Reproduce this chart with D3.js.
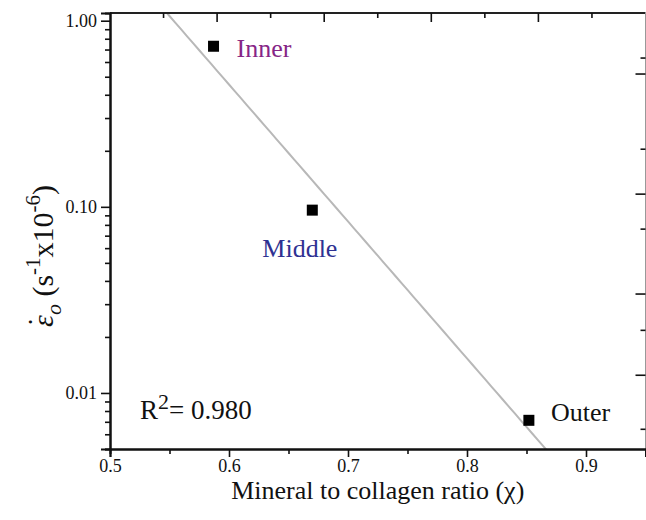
<!DOCTYPE html>
<html>
<head>
<meta charset="utf-8">
<script src="https://cdn.jsdelivr.net/npm/d3@7"></script>
<style>
  html, body { margin: 0; padding: 0; background: #fff; }
  svg { display: block; }
  text { font-family: "Liberation Serif", "Times New Roman", serif; }
</style>
</head>
<body>
<svg id="chart" width="646" height="520"></svg>
<script>
// Strain rate vs mineral-to-collagen ratio for three tissue regions
const regions = ["Inner", "Middle", "Outer"];
const ratio = [0.587, 0.670, 0.852];
const strainRate = [0.729, 0.096, 0.00713];
const labelColors = ["#862586", "#2e3192", "#111111"];

const xMajorTicks = [0.5, 0.6, 0.7, 0.8, 0.9];
const xMinorTicks = [0.55, 0.65, 0.75, 0.85, 0.95];
const yMajorTicks = [1, 0.1, 0.01];
const yMajorLabels = ["1.00", "0.10", "0.01"];
const yMinorTicks = [0.9, 0.8, 0.7, 0.6, 0.5, 0.4, 0.3, 0.2,
                     0.09, 0.08, 0.07, 0.06, 0.05, 0.04, 0.03, 0.02,
                     0.009, 0.008, 0.007, 0.006, 0.005];
// Mirror-axis ticks (top and right frame)
const topTicks = [0.545, 0.59, 0.635, 0.68, 0.725, 0.77, 0.815, 0.86, 0.905];
const rightTicks = [0.630, 0.517, 0.204, 0.117, 0.0759, 0.0340, 0.0217, 0.01245, 0.00638];
const rSquaredText = "0.980";

const margin = { left: 110, top: 13, right: 0.5, bottom: 71 };
const W = 646, H = 520;
const svg = d3.select("#chart");

const x = d3.scaleLinear().domain([0.5, 0.95]).range([margin.left, W - margin.right]);
const y = d3.scaleLog().domain([0.005, 1.1]).range([H - margin.bottom, margin.top]);
const [x0, x1] = x.range();
const [yb, yt] = y.range();

// Least-squares fit of log10(strain rate) against ratio
const lx = ratio, ly = strainRate.map(Math.log10);
const mx = d3.mean(lx), my = d3.mean(ly);
const slope = d3.sum(lx, (v, i) => (v - mx) * (ly[i] - my)) / d3.sum(lx, v => (v - mx) ** 2);
const intercept = my - slope * mx;

svg.append("defs").append("clipPath").attr("id", "plot")
  .append("rect").attr("x", x0).attr("y", yt).attr("width", x1 - x0).attr("height", yb - yt);

const fitX = d3.range(0.5, 0.9501, 0.005);
svg.append("path")
  .attr("clip-path", "url(#plot)")
  .attr("d", d3.line().x(d => x(d)).y(d => y(Math.pow(10, intercept + slope * d)))(fitX))
  .attr("fill", "none").attr("stroke", "#b8b8b8").attr("stroke-width", 2);

// Frame lines
svg.append("line").attr("x1", x0).attr("x2", x1).attr("y1", yt).attr("y2", yt)
  .attr("stroke", "#222").attr("stroke-width", 2);
svg.append("line").attr("x1", x1).attr("x2", x1).attr("y1", yt).attr("y2", yb)
  .attr("stroke", "#999").attr("stroke-width", 1);

// Top mirror ticks (alternating short/long, pointing inward)
svg.append("g").selectAll("line").data(topTicks).join("line")
  .attr("x1", d => x(d)).attr("x2", d => x(d))
  .attr("y1", yt).attr("y2", (d, i) => yt + (i % 2 ? 9 : 5))
  .attr("stroke", "#111").attr("stroke-width", 1.6);

// Right mirror ticks
svg.append("g").selectAll("line").data(rightTicks).join("line")
  .attr("x1", x1).attr("x2", (d, i) => x1 - (i % 2 ? 10 : 5))
  .attr("y1", d => y(d)).attr("y2", d => y(d))
  .attr("stroke", "#111").attr("stroke-width", 1.6);

function styleAxis(g, size) {
  g.selectAll(".domain").attr("stroke", "#111").attr("stroke-width", 2);
  g.selectAll(".tick line").attr("stroke", "#111").attr("stroke-width", 1.6);
  g.selectAll("text")
    .attr("font-size", size)
    .style("font-size", size + "px")
    .style("font-family", '"Liberation Serif", serif')
    .attr("fill", "#111");
}

// Bottom axis
const gx = svg.append("g").attr("transform", `translate(0,${yb})`);
gx.append("g").call(d3.axisBottom(x).tickValues(xMinorTicks).tickSize(5).tickFormat(""));
gx.append("g").call(d3.axisBottom(x).tickValues(xMajorTicks).tickSize(8).tickPadding(2)
  .tickFormat(d3.format(".1f")));
styleAxis(gx, 18);

// Left axis
const gy = svg.append("g").attr("transform", `translate(${x0},0)`);
gy.append("g").call(d3.axisLeft(y).tickValues(yMinorTicks).tickSize(5).tickFormat(""));
gy.append("g").call(d3.axisLeft(y).tickValues(yMajorTicks).tickSize(9).tickPadding(4)
  .tickFormat((d, i) => yMajorLabels[i]));
styleAxis(gy, 18);

// Data points
svg.append("g").selectAll("rect").data(ratio).join("rect")
  .attr("x", (d) => x(d) - 5.5)
  .attr("y", (d, i) => y(strainRate[i]) - 5.5)
  .attr("width", 11).attr("height", 11)
  .attr("fill", "#000");

// Region labels
const labelOffsets = [[23, 11], [-50, 47], [22, 1]];
svg.append("g").selectAll("text").data(regions).join("text")
  .attr("x", (d, i) => x(ratio[i]) + labelOffsets[i][0])
  .attr("y", (d, i) => y(strainRate[i]) + labelOffsets[i][1])
  .style("font-size", "26px")
  .attr("fill", (d, i) => labelColors[i])
  .text(d => d);

// R-squared annotation
const r2 = svg.append("text").attr("x", 140).attr("y", 419).style("font-size", "27px").attr("fill", "#111");
r2.append("tspan").text("R");
r2.append("tspan").attr("dy", -10).style("font-size", "22px").text("2");
r2.append("tspan").attr("dy", 10).text("= " + rSquaredText);

// Axis titles
svg.append("text")
  .attr("x", (x0 + x1) / 2).attr("y", 499)
  .attr("text-anchor", "middle").style("font-size", "26px").attr("fill", "#111")
  .text("Mineral to collagen ratio (\u03c7)");

const yt2 = svg.append("text")
  .attr("transform", "translate(53,256) rotate(-90)")
  .attr("text-anchor", "middle").style("font-size", "30px").attr("fill", "#111");
yt2.append("tspan").attr("font-style", "italic").text("\u03b5");
yt2.append("tspan").attr("dx", -12).attr("dy", -4).text("\u02d9");
yt2.append("tspan").attr("font-style", "italic").style("font-size", "22px").attr("dx", 2).attr("dy", 12).text("o");
yt2.append("tspan").attr("dy", -8).text(" (s");
yt2.append("tspan").style("font-size", "21px").attr("dy", -13).text("-1");
yt2.append("tspan").attr("dy", 13).text("x10");
yt2.append("tspan").style("font-size", "21px").attr("dy", -13).text("-6");
yt2.append("tspan").attr("dy", 13).text(")");
</script>
</body>
</html>
